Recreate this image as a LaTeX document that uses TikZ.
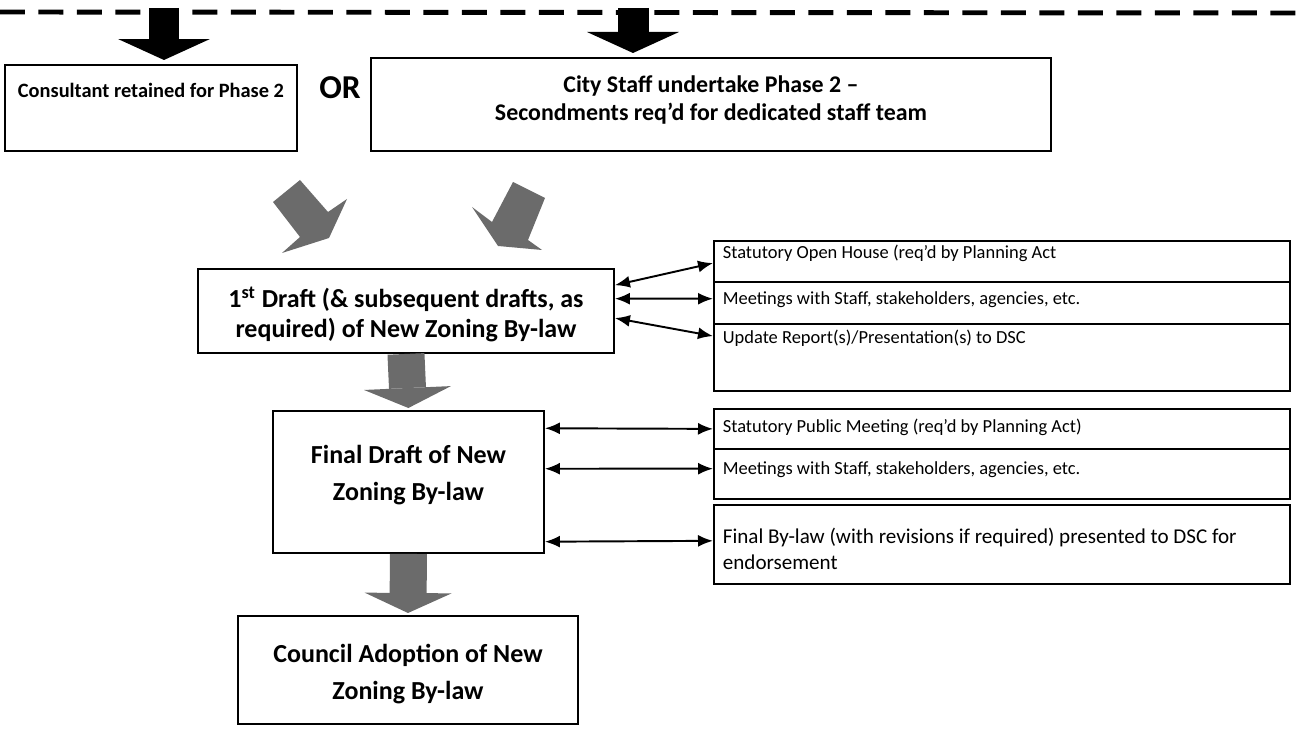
\documentclass[tikz,border=0pt]{standalone}
\usepackage{fontspec}
\setmainfont{Carlito}
\usetikzlibrary{arrows.meta,calc}
\newlength{\pix}
\setlength{\pix}{0.02cm}

\begin{document}
\begin{tikzpicture}[x=0.02cm,y=-0.02cm,
    main/.style = {draw, line width=1.1pt, anchor=north west, inner xsep=2\pix, inner ysep=0pt, align=flush center},
    side/.style = {draw, line width=1pt, anchor=north west, inner xsep=9\pix, inner ysep=0pt, text width=558\pix, align=flush left, font=\fontsize{10.5}{13}\selectfont},
    link/.style = {{Latex[length=0.3cm,width=0.24cm]}-{Latex[length=0.3cm,width=0.24cm]}, line width=1.1pt},
    blockdown/.style = {line width=0.62cm, shorten >=0.08cm, -{Triangle[length=0.42cm,width=1.84cm,line width=0pt]}},
    grayblock/.style = {draw=black!58, line width=0.74cm, shorten >=0.04cm, -{Triangle[length=0.4cm,width=1.74cm,line width=0pt]}},
    grayfill/.style = {fill=black!58}]
    \useasboundingbox (0,0) rectangle (1306,729);

    % phase line
    \coordinate (dl) at (0,12);
    \coordinate (dr) at (1306,13);
    \draw[line width=2.8pt, dash pattern=on 0.5cm off 0.27cm] (dl) -- (dr);

    \node[main, text width=288\pix, text height=32.8\pix, text depth=53.2\pix, font=\fontsize{11.6}{14}\selectfont\bfseries] (cons) at (4,64) {Consultant retained for Phase 2};
    \node[font=\fontsize{19}{22}\selectfont\bfseries] (or) at (340,88) {OR};
    \node[main, text width=676\pix, text height=34.6\pix, text depth=58.4\pix, font=\fontsize{13.6}{15.9}\selectfont\bfseries] (city) at (370,57) {City Staff undertake Phase 2 --\\ Secondments req'd for dedicated staff team};
    \node[main, text width=412\pix, text height=38.5\pix, text depth=45.5\pix, font=\fontsize{14.8}{17}\selectfont\bfseries] (draft) at (197,268) {1\textsuperscript{st} Draft (\& subsequent drafts, as\\ required) of New Zoning By-law};
    \node[main, text width=267\pix, text height=52.5\pix, text depth=89.5\pix, font=\fontsize{14.8}{21}\selectfont\bfseries] (final) at (272,410) {Final Draft of New\\ Zoning By-law};
    \node[main, text width=336\pix, text height=46.5\pix, text depth=61.5\pix, font=\fontsize{14.8}{21}\selectfont\bfseries] (adopt) at (237,615) {Council Adoption of New\\ Zoning By-law};

    \node[side, text height=18\pix, text depth=23\pix] (open) at (713,240) {Statutory Open House (req'd by Planning Act};
    \node[side, text height=23\pix, text depth=19\pix] (meetA) at (713,281) {Meetings with Staff, stakeholders, agencies, etc.};
    \node[side, text height=20\pix, text depth=47\pix] (update) at (713,323) {Update Report(s)/Presentation(s) to DSC};
    \node[side, text height=24\pix, text depth=16\pix] (public) at (713,408) {Statutory Public Meeting (req'd by Planning Act)};
    \node[side, text height=26\pix, text depth=24\pix] (meetB) at (713,448) {Meetings with Staff, stakeholders, agencies, etc.};
    \node[side, text height=39\pix, text depth=40\pix, font=\fontsize{12}{14.7}\selectfont] (endorse) at (713,504) {Final By-law (with revisions if required) presented to DSC for\\ endorsement};

    % black arrows from the phase line
    \coordinate (t1) at (164,8);
    \coordinate (t2) at (633,8);
    \draw[blockdown] (t1) -- (t1 |- cons.north);
    \draw[blockdown] (t2) -- (t2 |- city.north);

    % slanted grey arrows into the 1st draft
    \fill[grayfill] (273,202) -- (300,180) -- (328,212) -- (347,199) -- (329,238) -- (282,253) -- (300,237) -- cycle;
    \fill[grayfill] (513,182) -- (545,198) -- (528,240) -- (542,250) -- (498,246) -- (472,207) -- (492,222) -- cycle;

    \draw[grayblock] (draft.south) -- (final.north);
    \draw[grayblock] (final.south) -- (adopt.north);

    \draw[link] ($(draft.north east)!0.2!(draft.south east)$) -- ($(open.north west)!0.54!(open.south west)$);
    \draw[link] ($(draft.north east)!0.357!(draft.south east)$) -- ($(meetA.north west)!0.405!(meetA.south west)$);
    \draw[link] ($(draft.north east)!0.583!(draft.south east)$) -- ($(update.north west)!0.19!(update.south west)$);
    \draw[link] ($(final.north east)!0.127!(final.south east)$) -- ($(public.north west)!0.5!(public.south west)$);
    \draw[link] ($(final.north east)!0.408!(final.south east)$) -- ($(meetB.north west)!0.4!(meetB.south west)$);
    \draw[link] ($(final.north east)!0.915!(final.south east)$) -- ($(endorse.north west)!0.456!(endorse.south west)$);
\end{tikzpicture}
\end{document}
